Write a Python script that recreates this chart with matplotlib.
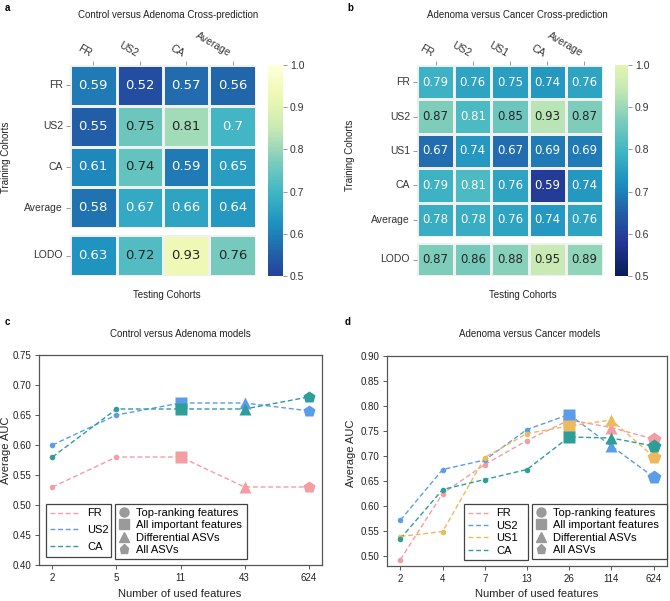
import numpy as np
import matplotlib
matplotlib.use("Agg")
import matplotlib.pyplot as plt
import seaborn as sns
from matplotlib.colors import LinearSegmentedColormap
from matplotlib.lines import Line2D
import matplotlib.cm as cm
from matplotlib.colors import Normalize

plt.rcParams['font.family'] = ['Liberation Sans', 'DejaVu Sans']

# ---------------- data ----------------
a_cols = ["FR", "US2", "CA", "Average"]
a_rows = ["FR", "US2", "CA", "Average"]
a_vals = [[0.59, 0.52, 0.57, 0.56],
          [0.55, 0.75, 0.81, 0.70],
          [0.61, 0.74, 0.59, 0.65],
          [0.58, 0.67, 0.66, 0.64]]
a_lodo = [0.63, 0.72, 0.93, 0.76]

b_cols = ["FR", "US2", "US1", "CA", "Average"]
b_rows = ["FR", "US2", "US1", "CA", "Average"]
b_vals = [[0.79, 0.76, 0.75, 0.74, 0.76],
          [0.87, 0.81, 0.85, 0.93, 0.87],
          [0.67, 0.74, 0.67, 0.69, 0.69],
          [0.79, 0.81, 0.76, 0.59, 0.74],
          [0.78, 0.78, 0.76, 0.74, 0.76]]
b_lodo = [0.87, 0.86, 0.88, 0.95, 0.89]

c_x = ["2", "5", "11", "43", "624"]
c_markers = ["o", "o", "s", "^", "p"]
c_series = {
    "FR":  [0.53, 0.58, 0.58, 0.53, 0.53],
    "US2": [0.60, 0.65, 0.67, 0.67, 0.657],
    "CA":  [0.58, 0.66, 0.66, 0.66, 0.68],
}

d_x = ["2", "4", "7", "13", "26", "114", "624"]
d_markers = ["o", "o", "o", "o", "s", "^", "p"]
d_series = {
    "FR":  [0.493, 0.625, 0.683, 0.731, 0.772, 0.757, 0.734],
    "US2": [0.572, 0.673, 0.692, 0.753, 0.783, 0.720, 0.658],
    "US1": [0.539, 0.549, 0.697, 0.745, 0.760, 0.772, 0.699],
    "CA":  [0.535, 0.633, 0.653, 0.673, 0.738, 0.736, 0.720],
}

colors = {"FR": "#F29EA3", "US2": "#5C9DEB", "US1": "#EBBA5E", "CA": "#2E9E98"}
marker_labels = ["Top-ranking features", "All important features",
                 "Differential ASVs", "All ASVs"]
marker_shapes = ["o", "s", "^", "p"]

# ---------------- figure ----------------
W, H = 670, 601
fig = plt.figure(figsize=(W / 100, H / 100), dpi=100)


def px_axes(x0, y0, x1, y1):
    return fig.add_axes([x0 / W, 1 - y1 / H, (x1 - x0) / W, (y1 - y0) / H])


def fig_text(x, y, s, **kw):
    fig.text(x / W, 1 - y / H, s, **kw)


base = plt.get_cmap("YlGnBu")
cmap_a = LinearSegmentedColormap.from_list("a", base(np.linspace(0.83, 0.0, 256)))
cmap_b = LinearSegmentedColormap.from_list("b", base(np.linspace(1.0, 0.16, 256)))

tick_col = "#333333"
txt_col = "#222222"


def heat(top, bot, cax, vals, lodo, rows, cols, cmap, annsize, light_thr):
    kw = dict(cmap=cmap, vmin=0.5, vmax=1.0, annot=True, fmt=".2g",
              linewidths=0.8, linecolor="#f0f0f0", cbar=False,
              annot_kws={"fontsize": annsize, "family": "DejaVu Sans"})
    sns.heatmap(np.array(vals), ax=top, xticklabels=cols, yticklabels=rows, **kw)
    sns.heatmap(np.array([lodo]), ax=bot, xticklabels=False, yticklabels=["LODO"], **kw)
    for ax in (top, bot):
        for t in ax.texts:
            v = float(t.get_text())
            t.set_color("white" if v < light_thr else "#262626")
    top.xaxis.tick_top()
    top.set_xticklabels(cols, rotation=-30, ha="right", va="bottom", fontsize=7.5,
                        color=tick_col)
    top.set_yticklabels(rows, rotation=0, fontsize=7.5, color=tick_col)
    bot.set_yticklabels(["LODO"], rotation=0, fontsize=7.5, color=tick_col)
    for ax in (top, bot):
        ax.tick_params(length=3, width=0.6, color="#888888", pad=2)
    top.tick_params(axis="x", pad=1.5)
    sm = cm.ScalarMappable(norm=Normalize(0.5, 1.0), cmap=cmap)
    cb = fig.colorbar(sm, cax=cax)
    cb.outline.set_visible(False)
    cb.set_ticks([0.5, 0.6, 0.7, 0.8, 0.9, 1.0])
    cb.set_ticklabels(["0.5", "0.6", "0.7", "0.8", "0.9", "1.0"])
    cax.tick_params(labelsize=7.5, length=3, width=0.6, color="#888888",
                    labelcolor=tick_col, pad=2)


# panel a
heat(px_axes(70, 65, 256, 228), px_axes(70, 235, 256, 276), px_axes(268, 65, 283, 276),
     a_vals, a_lodo, a_rows, a_cols, cmap_a, 9.5, 0.71)
# panel b
heat(px_axes(417, 65, 603, 237), px_axes(417, 243, 603, 276), px_axes(615, 65, 628, 276),
     b_vals, b_lodo, b_rows, b_cols, cmap_b, 8.5, 0.83)

fig_text(5, 8, "a", fontsize=7, fontweight="bold", va="center")
fig_text(347, 8, "b", fontsize=7, fontweight="bold", va="center")
fig_text(168, 15, "Control versus Adenoma Cross-prediction", fontsize=7, ha="center", va="center",
         color=txt_col)
fig_text(517, 15, "Adenoma versus Cancer Cross-prediction", fontsize=7, ha="center", va="center",
         color=txt_col)
fig_text(167, 295, "Testing Cohorts", fontsize=7, ha="center", va="center", color=txt_col)
fig_text(523, 295, "Testing Cohorts", fontsize=7, ha="center", va="center", color=txt_col)
fig_text(6, 157, "Training Cohorts", fontsize=7, ha="center", va="center", rotation=90,
         color=txt_col)
fig_text(350, 155, "Training Cohorts", fontsize=7, ha="center", va="center", rotation=90,
         color=txt_col)


def line_panel(ax, xl, markers, series, ylim, yticks, xpad, small_ms, big_ms,
               leg_line_box, leg_mark_box, hl, lspace):
    xs = np.arange(len(xl))
    for name, ys in series.items():
        c = colors[name]
        ax.plot(xs, ys, ls=(0, (3.5, 2)), lw=1.0, color=c, zorder=2)
        for xi, yi, m in zip(xs, ys, markers):
            ms = small_ms if m == "o" else (big_ms * 1.1 if m == "p" else big_ms)
            ax.plot([xi], [yi], marker=m, ms=ms, color=c, mec="none", ls="none", zorder=3)
    ax.set_xticks(xs)
    ax.set_xticklabels(xl)
    ax.set_xlim(-xpad, len(xl) - 1 + xpad)
    ax.set_ylim(*ylim)
    ax.set_yticks(yticks)
    ax.set_yticklabels(["%.2f" % t for t in yticks])
    for s in ax.spines.values():
        s.set_color("#555555")
        s.set_linewidth(0.9)
    ax.tick_params(labelsize=7, length=3, width=0.7, color="#555555", labelcolor=txt_col,
                   pad=2.5)

    def bb(box):
        x0, y0, x1, y1 = box
        return (x0 / W, 1 - y1 / H, (x1 - x0) / W, (y1 - y0) / H)

    h1 = [Line2D([], [], ls=(0, (3.5, 2)), lw=1.0, color=colors[n]) for n in series]
    l1 = ax.legend(h1, list(series.keys()), loc="upper left", mode="expand",
                   bbox_to_anchor=bb(leg_line_box),
                   bbox_transform=fig.transFigure, fontsize=8, frameon=True,
                   fancybox=False, edgecolor="#444444", framealpha=1,
                   handlelength=hl, handletextpad=0.7, borderpad=0.4,
                   labelspacing=lspace, borderaxespad=0)
    l1.get_frame().set_linewidth(0.9)
    ax.add_artist(l1)
    h2 = [Line2D([], [], marker=m, ls="none", color="#9a9a9a", ms=6.5) for m in marker_shapes]
    l2 = ax.legend(h2, marker_labels, loc="upper left", mode="expand",
                   bbox_to_anchor=bb(leg_mark_box),
                   bbox_transform=fig.transFigure, fontsize=8, frameon=True,
                   fancybox=False, edgecolor="#444444", framealpha=1,
                   handlelength=1.0, handletextpad=0.5, borderpad=0.35,
                   labelspacing=0.22, borderaxespad=0)
    l2.get_frame().set_linewidth(0.9)


axc = px_axes(39, 355, 322, 565)
line_panel(axc, c_x, c_markers, c_series, (0.40, 0.75),
           [0.40, 0.45, 0.50, 0.55, 0.60, 0.65, 0.70, 0.75], 0.21, 4, 8.5,
           (46, 504, 111, 561), (115, 504, 247, 561), 2.6, 0.62)
axd = px_axes(387, 356, 667, 566)
line_panel(axd, d_x, d_markers, d_series, (0.48, 0.90),
           [0.50, 0.55, 0.60, 0.65, 0.70, 0.75, 0.80, 0.85, 0.90], 0.32, 4, 9,
           (464, 504, 528, 561), (532, 504, 667, 561), 1.8, 0.22)

fig_text(5, 322, "c", fontsize=7, fontweight="bold", va="center")
fig_text(345, 322, "d", fontsize=7, fontweight="bold", va="center")
fig_text(180, 334, "Control versus Adenoma models", fontsize=7, ha="center", va="center",
         color=txt_col)
fig_text(530, 334, "Adenoma versus Cancer models", fontsize=7, ha="center", va="center",
         color=txt_col)
fig_text(180, 594, "Number of used features", fontsize=8, ha="center", va="center",
         color=txt_col)
fig_text(537, 594, "Number of used features", fontsize=8, ha="center", va="center",
         color=txt_col)
fig_text(6, 450, "Average AUC", fontsize=8, ha="center", va="center", rotation=90,
         color=txt_col)
fig_text(351, 453, "Average AUC", fontsize=8, ha="center", va="center", rotation=90,
         color=txt_col)

fig.savefig("out.png", dpi=100)
